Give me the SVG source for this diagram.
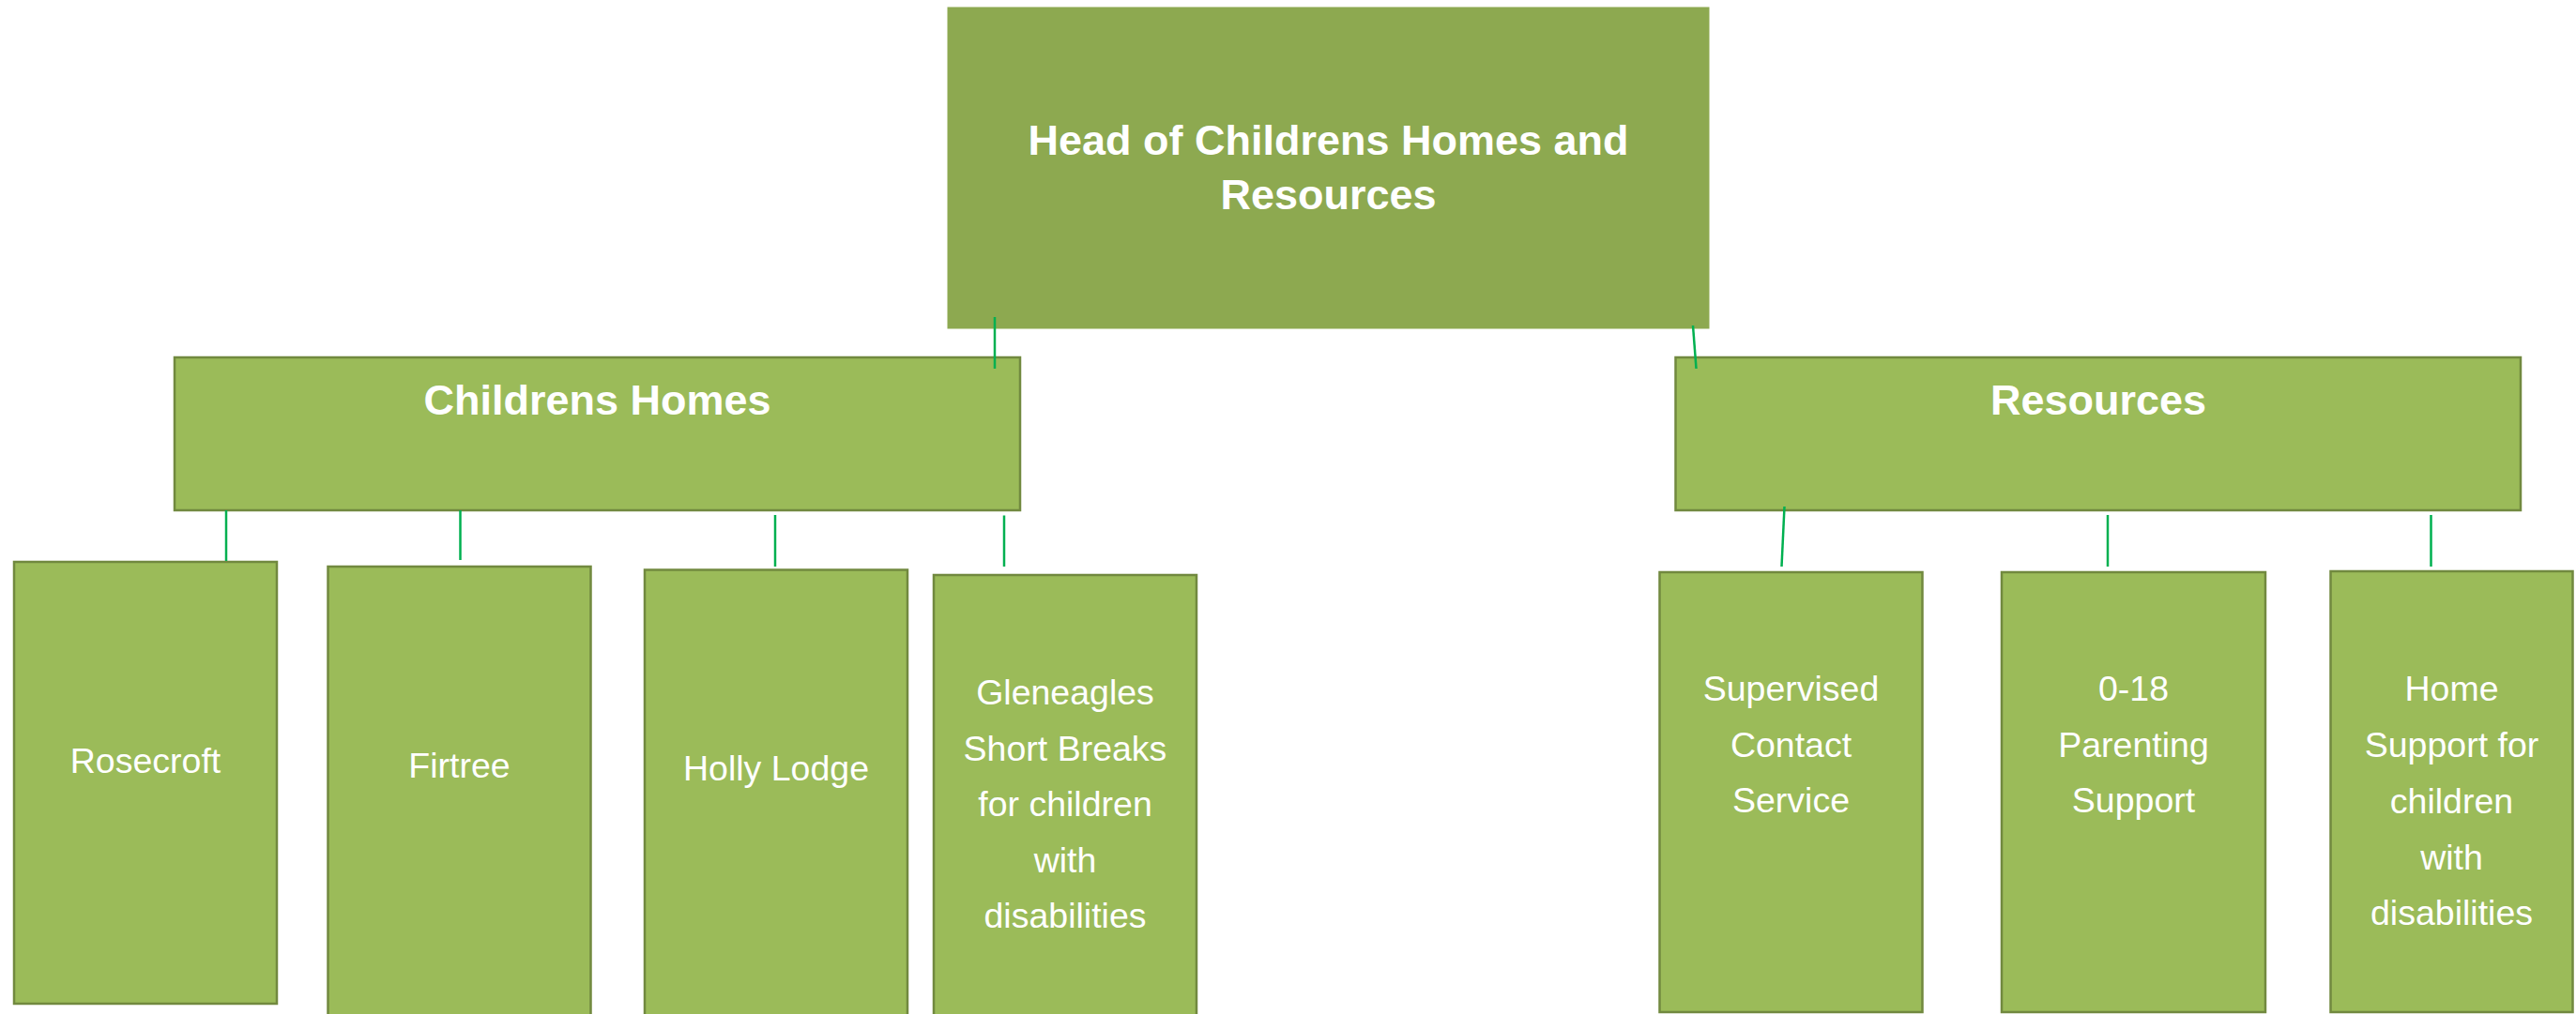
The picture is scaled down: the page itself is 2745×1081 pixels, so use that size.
<svg xmlns="http://www.w3.org/2000/svg" width="2745" height="1081" viewBox="0 0 2745 1081">
<style>
.box{fill:#9BBB59;stroke:#71893F;stroke-width:2.5}
.top{fill:#8DA950;stroke:#8DA950;stroke-width:1}
.t{font-family:"Liberation Sans",Arial,sans-serif;fill:#FFFFFF;text-anchor:middle;font-size:37.5px}
.b{font-family:"Liberation Sans",Arial,sans-serif;fill:#FFFFFF;text-anchor:middle;font-weight:bold;font-size:45px}
.c{stroke:#00B050;stroke-width:2.5;fill:none}
</style>
<rect width="2745" height="1081" fill="#FFFFFF"/>
<g id="head">
<rect class="top" x="1010" y="8" width="811" height="342"/>
<text class="b" x="1415.5" y="165">Head of Childrens Homes and</text>
<text class="b" x="1415.5" y="223">Resources</text>
</g>
<g id="childrens-homes">
<rect class="box" x="186" y="381" width="901" height="163"/>
<text class="b" x="636.5" y="442">Childrens Homes</text>
</g>
<g id="resources">
<rect class="box" x="1785.5" y="381" width="900.5" height="163"/>
<text class="b" x="2236" y="442">Resources</text>
</g>
<g id="rosecroft">
<rect class="box" x="15" y="599" width="280" height="471"/>
<text class="t" x="155" y="823.5">Rosecroft</text>
</g>
<g id="firtree">
<rect class="box" x="349.5" y="604" width="280" height="490"/>
<text class="t" x="489.5" y="829">Firtree</text>
</g>
<g id="holly-lodge">
<rect class="box" x="687" y="607.5" width="280" height="490"/>
<text class="t" x="827" y="831.5">Holly Lodge</text>
</g>
<g id="gleneagles">
<rect class="box" x="995" y="613" width="280" height="490"/>
<text class="t" x="1135" y="751">Gleneagles</text>
<text class="t" x="1135" y="811">Short Breaks</text>
<text class="t" x="1135" y="870">for children</text>
<text class="t" x="1135" y="930">with</text>
<text class="t" x="1135" y="989">disabilities</text>
</g>
<g id="supervised-contact">
<rect class="box" x="1768.5" y="610" width="280" height="469"/>
<text class="t" x="1908.5" y="747">Supervised</text>
<text class="t" x="1908.5" y="807">Contact</text>
<text class="t" x="1908.5" y="866">Service</text>
</g>
<g id="parenting-support">
<rect class="box" x="2133" y="610" width="281" height="469"/>
<text class="t" x="2273.5" y="747">0-18</text>
<text class="t" x="2273.5" y="807">Parenting</text>
<text class="t" x="2273.5" y="866">Support</text>
</g>
<g id="home-support">
<rect class="box" x="2483.5" y="609" width="258" height="470"/>
<text class="t" x="2612.5" y="747">Home</text>
<text class="t" x="2612.5" y="807">Support for</text>
<text class="t" x="2612.5" y="867">children</text>
<text class="t" x="2612.5" y="927">with</text>
<text class="t" x="2612.5" y="986">disabilities</text>
</g>
<g id="connectors">
<line class="c" x1="1060" y1="338" x2="1060" y2="393"/>
<line class="c" x1="1804" y1="347" x2="1807.5" y2="393"/>
<line class="c" x1="241" y1="544" x2="241" y2="598"/>
<line class="c" x1="490.5" y1="544" x2="490.5" y2="597"/>
<line class="c" x1="826" y1="549" x2="826" y2="604"/>
<line class="c" x1="1070" y1="549.5" x2="1070" y2="604"/>
<line class="c" x1="1901.5" y1="540" x2="1898.5" y2="604"/>
<line class="c" x1="2246" y1="549" x2="2246" y2="604"/>
<line class="c" x1="2590.5" y1="549" x2="2590.5" y2="604"/>
</g>
</svg>
